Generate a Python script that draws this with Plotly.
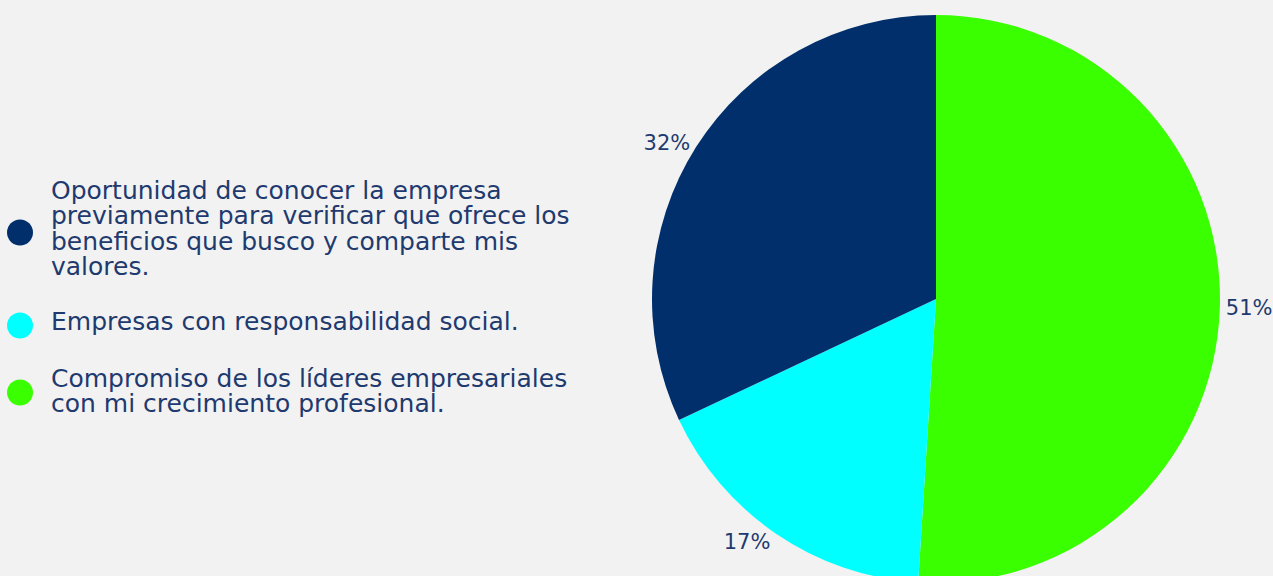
import plotly.graph_objects as go

# Data
labels = [
    "Oportunidad de conocer la empresa previamente para verificar que ofrece los beneficios que busco y comparte mis valores.",
    "Empresas con responsabilidad social.",
    "Compromiso de los líderes empresariales con mi crecimiento profesional.",
]
label_lines = [
    ["Oportunidad de conocer la empresa", "previamente para verificar que ofrece los",
     "beneficios que busco y comparte mis", "valores."],
    ["Empresas con responsabilidad social."],
    ["Compromiso de los líderes empresariales", "con mi crecimiento profesional."],
]
values = [32, 17, 51]
colors = ["#002F6C", "#00FFFF", "#39FF00"]

W, H = 1273, 583
MT, MB = 15, 0
TEXT_COLOR = "#1F3A6E"
FONT = "DejaVu Sans"

CX = 936
HALF = 300
fig = go.Figure()
fig.add_trace(go.Pie(
    labels=labels[::-1], values=values[::-1], sort=False, direction="clockwise", rotation=0,
    marker=dict(colors=colors[::-1], line=dict(width=0)),
    textinfo="percent", textposition="outside", automargin=False,
    texttemplate="%{percent:.0%}",
    outsidetextfont=dict(family=FONT, size=21, color=TEXT_COLOR),
    showlegend=False, hoverinfo="label+percent",
    domain=dict(x=[(CX - HALF) / W, (CX + HALF) / W], y=[0, 1]),
))

plot_h = H - MT - MB
def py(p):
    return (H - MB - p) / plot_h
def px(p):
    return p / W

# manual legend
line_centers = [[190.5, 215.5, 241, 266.5], [321.5], [378.5, 403.5]]
dot_centers = [232.5, 325.5, 392.5]
shapes = []
annotations = []
for i, lines in enumerate(label_lines):
    r = 13
    shapes.append(dict(type="circle", xref="paper", yref="paper",
                       x0=px(20 - r), x1=px(20 + r), y0=py(dot_centers[i] + r), y1=py(dot_centers[i] - r),
                       fillcolor=colors[i], line=dict(width=0)))
    for j, t in enumerate(lines):
        annotations.append(dict(text=t, xref="paper", yref="paper", x=px(49), y=py(line_centers[i][j]),
                                xanchor="left", yanchor="middle", showarrow=False,
                                font=dict(family=FONT, size=25, color=TEXT_COLOR)))

fig.update_layout(
    width=W, height=H, margin=dict(l=0, r=0, t=MT, b=MB, pad=0, autoexpand=False),
    paper_bgcolor="#F2F2F2", plot_bgcolor="#F2F2F2",
    shapes=shapes, annotations=annotations, showlegend=False,
)
fig.write_html("out.html", config=dict(displayModeBar=False),
               post_script="document.body.style.margin='0';document.body.style.overflow='hidden';")
